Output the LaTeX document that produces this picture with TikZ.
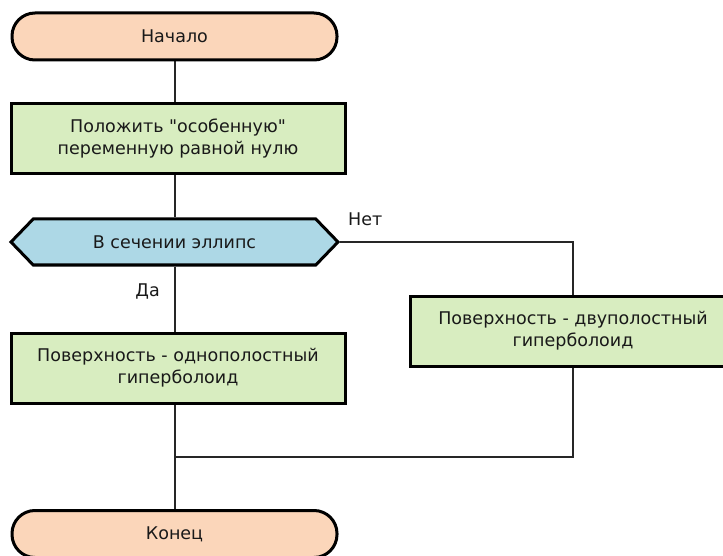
\documentclass[tikz,border=0pt]{standalone}
\usepackage{fontspec}
\setmainfont{DejaVu Sans}[Ligatures=TeXOff]
\usetikzlibrary{shapes.symbols}
\pgfdeclarelayer{bg}
\pgfsetlayers{bg,main}
\definecolor{peach}{RGB}{251,214,186}
\definecolor{lgreen}{RGB}{216,237,192}
\definecolor{lblue}{RGB}{173,216,230}
\definecolor{txt}{RGB}{25,25,25}
\tikzset{
  base/.style={draw=black, line width=3pt, inner sep=0pt, align=center, text=txt,
    font=\fontsize{17.5}{22}\selectfont},
  term/.style={base, fill=peach, rounded corners=23pt, minimum width=325pt, minimum height=47pt},
  proc/.style={base, fill=lgreen, minimum height=70pt},
  decis/.style={base, fill=lblue, signal, signal to=east and west, signal pointer angle=92,
    minimum width=327pt, minimum height=46pt},
  conn/.style={draw=black!85, line width=1.4pt},
  lbl/.style={text=txt, inner sep=0pt, font=\fontsize{17.5}{20}\selectfont}
}
\begin{document}
\begin{tikzpicture}[x=1pt,y=-1pt]
\clip (0,0) rectangle (723,556);
\node[term] (start) at (174.5,36.5) {Начало};
\node[proc, minimum width=334pt] (p1) at (178,138.5) {Положить "особенную"\\переменную равной нулю};
\node[decis] (d) at (174.5,242) {В сечении эллипс};
\node[proc, minimum width=334pt] (pl) at (178,368) {Поверхность - однополостный\\гиперболоид};
\node[proc, minimum width=326pt] (pr) at (573,331) {Поверхность - двуполостный\\гиперболоид};
\node[term] (end) at (174.5,534) {Конец};
\coordinate (nr) at (573,242);
\coordinate (mr) at (573,457);
\coordinate (ml) at (175,457);
\node[lbl, anchor=east] (da) at (160,291) {Да};
\node[lbl, anchor=west] (net) at (348,219) {Нет};
\begin{pgfonlayer}{bg}
\fill[white] (0,0) rectangle (723,556);
\draw[conn] (start.south -| ml) -- (p1.north -| ml);
\draw[conn] (p1.south -| ml) -- (d.north -| ml);
\draw[conn] (d.south -| ml) -- (pl.north -| ml);
\draw[conn] (d.east) -- (nr) -- (pr.north);
\draw[conn] (pl.south -| ml) -- (end.north -| ml);
\draw[conn] (pr.south) -- (mr) -- (ml);
\end{pgfonlayer}
\end{tikzpicture}
\end{document}
